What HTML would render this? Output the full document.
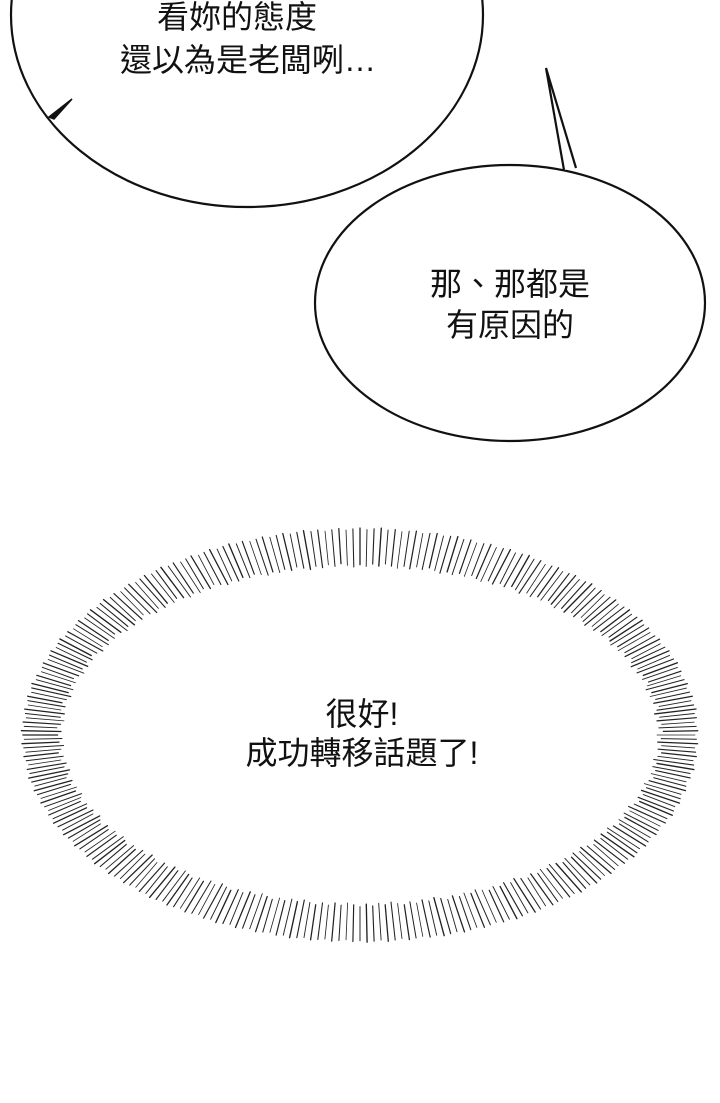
<!DOCTYPE html>
<html><head><meta charset="utf-8"><style>
html,body{margin:0;padding:0;background:#fff;}
svg{display:block}
text{font-family:"Liberation Sans","Noto Sans CJK TC",sans-serif;font-size:32px;fill:#111;text-anchor:middle}
</style></head><body>
<svg id="s" width="720" height="1103" viewBox="0 0 720 1103" xmlns="http://www.w3.org/2000/svg">
<rect width="720" height="1103" fill="#fff"/>
<ellipse cx="247" cy="15" rx="236" ry="192" fill="#fff" stroke="#111" stroke-width="2.2"/>
<path d="M49,117 L72,99 L54,119 Z" fill="#111" stroke="#111" stroke-width="1.5"/>
<ellipse cx="510" cy="303" rx="195" ry="138" fill="#fff" stroke="#111" stroke-width="2.2"/>
<path d="M564,170 L546,68 L576,168" fill="#fff" stroke="#111" stroke-width="2.2"/>
<text x="237" y="28">看妳的態度</text>
<text x="248" y="71">還以為是老闆咧…</text>
<text x="510" y="295">那、那都是</text>
<text x="510" y="336">有原因的</text>
<g id="sp" stroke="#222" stroke-linecap="round"></g>
<text x="362" y="725">很好!</text>
<text x="362" y="764">成功轉移話題了!</text>
</svg>
<script>
var g=document.getElementById('sp'),cx=360,cy=735,N=300,h='';
for(var i=0;i<N;i++){var t=i/N*2*Math.PI;var r=(i*37%11)/11;
var o=1+0.012*r,inn=1+0.025*((i*53)%7)/7;
var x1=cx+335*o*Math.cos(t),y1=cy+205*o*Math.sin(t),x2=cx+297*inn*Math.cos(t),y2=cy+168*inn*Math.sin(t);
h+='<line x1="'+x1.toFixed(1)+'" y1="'+y1.toFixed(1)+'" x2="'+x2.toFixed(1)+'" y2="'+y2.toFixed(1)+'" stroke-width="'+(0.8+0.6*r).toFixed(2)+'"/>';}
g.innerHTML=h;
</script>
</body></html>
